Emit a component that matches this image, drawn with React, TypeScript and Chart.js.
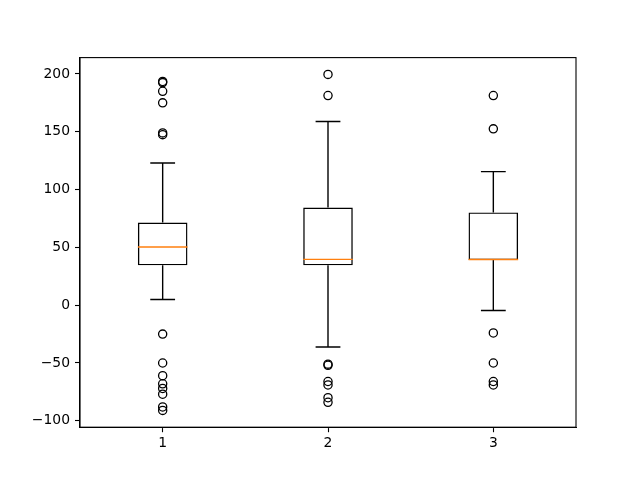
import React, { useEffect, useRef } from "react";
import { Chart, registerables } from "chart.js";

Chart.register(...registerables);

const positions = [1, 2, 3];
const q1 = [34.5, 34.5, 39];
const q3 = [71.5, 84.5, 80.2];
const medians = [50.3, 39.6, 39.5];
const whiskerLow = [4.9, -36.2, -4.6];
const whiskerHigh = [123, 158.8, 115.5];
const fliers1 = [193.5, 192.5, 185, 175, 149, 147.5, -25, -50, -61, -68, -72, -77, -88, -91];
const fliers2 = [199.6, 181.3, -51, -52, -66, -69, -80, -84];
const fliers3 = [181.3, 152.5, -24, -50, -66, -69];
const fliers = [fliers1, fliers2, fliers3];
const xTicks = [1, 2, 3];
const yTicks = [-100, -50, 0, 50, 100, 150, 200];

const LW = 1.4;
const BOX_W = 49.6;

const framePlugin = {
  id: "frame",
  afterDatasetsDraw(chart: any) {
    const { ctx, chartArea } = chart;
    ctx.save();
    ctx.strokeStyle = "#000";
    ctx.lineWidth = 1.1;
    ctx.strokeRect(chartArea.left, chartArea.top, chartArea.right - chartArea.left, chartArea.bottom - chartArea.top);
    ctx.restore();
  },
};

export default function App() {
  const ref = useRef<HTMLCanvasElement>(null);
  useEffect(() => {
    const allVals = [...whiskerLow, ...whiskerHigh, ...fliers1, ...fliers2, ...fliers3];
    const dmin = Math.min(...allVals);
    const dmax = Math.max(...allVals);
    const margin = (dmax - dmin) * 0.05;

    const datasets: any[] = [];
    datasets.push({
      type: "bar",
      data: positions.map((p, i) => ({ x: p, y: [q1[i], q3[i]] })),
      backgroundColor: "rgba(0,0,0,0)",
      borderColor: "#000",
      borderWidth: LW,
      borderSkipped: false,
      barThickness: BOX_W,
      inflateAmount: 0,
      order: 5,
    });
    positions.forEach((p, i) => {
      datasets.push({
        type: "scatter",
        showLine: true,
        data: [{ x: p, y: q3[i] }, { x: p, y: whiskerHigh[i] }],
        borderColor: "#000",
        borderWidth: LW,
        pointRadius: 0,
        order: 4,
      });
      datasets.push({
        type: "scatter",
        showLine: true,
        data: [{ x: p, y: q1[i] }, { x: p, y: whiskerLow[i] }],
        borderColor: "#000",
        borderWidth: LW,
        pointRadius: 0,
        order: 4,
      });
    });
    datasets.push({
      type: "scatter",
      data: positions.flatMap((p, i) => [{ x: p, y: whiskerHigh[i] }, { x: p, y: whiskerLow[i] }]),
      pointStyle: "line",
      pointRadius: BOX_W / 4,
      borderColor: "#000",
      borderWidth: LW,
      order: 3,
    });
    datasets.push({
      type: "scatter",
      data: positions.map((p, i) => ({ x: p, y: medians[i] })),
      pointStyle: "line",
      pointRadius: BOX_W / 2,
      borderColor: "#ff7f0e",
      borderWidth: LW,
      order: 0,
    });
    datasets.push({
      type: "scatter",
      data: positions.flatMap((p, i) => fliers[i].map((v) => ({ x: p, y: v }))),
      pointStyle: "circle",
      pointRadius: 4.1,
      backgroundColor: "rgba(0,0,0,0)",
      borderColor: "#000",
      borderWidth: 1.3,
      order: 1,
    });

    const font = { family: "'DejaVu Sans', sans-serif", size: 13.9 };
    const chart = new Chart(ref.current!, {
      type: "bar",
      data: { datasets },
      plugins: [framePlugin],
      options: {
        responsive: false,
        animation: false,
        events: [],
        layout: { padding: { left: 0, right: 64, top: 57.6, bottom: 0 } },
        plugins: { legend: { display: false }, tooltip: { enabled: false } },
        scales: {
          x: {
            type: "linear",
            min: 0.5,
            max: 3.5,
            offset: false,
            afterBuildTicks: (scale: any) => {
              scale.ticks = xTicks.map((v) => ({ value: v }));
            },
            afterFit: (scale: any) => {
              scale.height = 52.8;
            },
            grid: { display: true, drawOnChartArea: false, drawTicks: true, tickLength: 5, tickColor: "#000", tickWidth: 1.1, offset: false },
            border: { display: true, color: "#000", width: 1.1 },
            ticks: { color: "#000", font, padding: 3, maxRotation: 0, callback: (v: any) => String(v) },
          },
          y: {
            type: "linear",
            min: dmin - margin,
            max: dmax + margin,
            afterBuildTicks: (scale: any) => {
              scale.ticks = yTicks.map((v) => ({ value: v }));
            },
            afterFit: (scale: any) => {
              scale.width = 80;
            },
            grid: { display: true, drawOnChartArea: false, drawTicks: true, tickLength: 5, tickColor: "#000", tickWidth: 1.1 },
            border: { display: true, color: "#000", width: 1.1 },
            ticks: {
              color: "#000",
              font,
              padding: 5,
              callback: (v: any) => (v < 0 ? "\u2212" + Math.abs(v) : String(v)),
            },
          },
        },
      } as any,
    });
    return () => chart.destroy();
  }, []);

  return (
    <div style={{ position: "fixed", left: 0, top: 0, width: 640, height: 480, background: "#fff" }}>
      <canvas ref={ref} width={640} height={480} style={{ width: 640, height: 480 }} />
    </div>
  );
}
